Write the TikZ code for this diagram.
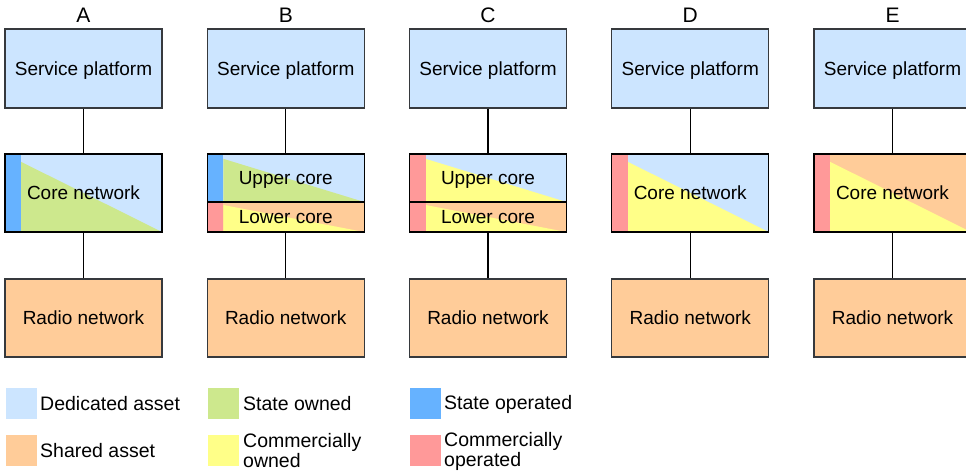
\documentclass[tikz,border=0pt]{standalone}
\usepackage{fontspec}
\setmainfont{Liberation Sans}
\usetikzlibrary{calc}

\definecolor{dedicated}{HTML}{CCE5FF}
\definecolor{shared}{HTML}{FFCC99}
\definecolor{stateown}{HTML}{CDE88D}
\definecolor{commown}{HTML}{FFFF88}
\definecolor{stateop}{HTML}{66B2FF}
\definecolor{commop}{HTML}{FF9999}
\definecolor{edge}{HTML}{36393D}

\tikzset{
  x=1pt, y=-1pt,
  boxtext/.style={font=\fontsize{19}{22}\selectfont, text height=13.8pt, text depth=0pt},
  layer/.style={draw=edge, line width=1.3pt, minimum width=157pt, minimum height=78pt,
    inner sep=0pt, boxtext},
  svc/.style={layer, fill=dedicated, minimum height=79pt},
  radio/.style={layer, fill=shared},
  % core block: #1 operator strip, #2 owner triangle, #3 asset background, #4 height
  core/.style n args={4}{draw=black, line width=1.3pt, minimum width=157pt,
    minimum height=#4, inner sep=0pt, boxtext,
    path picture={
      \coordinate (sw) at (path picture bounding box.south west);
      \coordinate (ne) at (path picture bounding box.north east);
      \fill[#3] (sw) rectangle (ne);
      \fill[#2] let \p1=(sw), \p2=(ne) in
        (\x1+16pt,\y1) -- (\x1+16pt,{\y2-0.1*(\y2-\y1)}) -- (\x2,\y1) -- cycle;
      \fill[#1] let \p1=(sw), \p2=(ne) in (sw) rectangle (\x1+16pt,\y2);
    }},
  link/.style={draw=black, line width=1.3pt},
  head/.style={font=\fontsize{21}{24}\selectfont},
  swatch/.style={minimum width=31pt, minimum height=31pt, inner sep=0pt},
  key/.style={anchor=west, inner sep=0pt, align=left, font=\fontsize{19.5}{20}\selectfont}
}

\begin{document}
\begin{tikzpicture}
\useasboundingbox (0,0) rectangle (966,472);

% ---- Column A ----
\node[head] (hA) at (83.5,15) {A};
\node[svc] (sA) at (83.5,68.5) {Service platform};
\node[core={stateop}{stateown}{dedicated}{78pt}] (cA) at (83.5,193) {Core network};
\node[radio] (rA) at (83.5,318) {Radio network};
\draw[link] (sA) -- (cA);
\draw[link] (cA) -- (rA);

% ---- Column B ----
\node[head] (hB) at (285.75,15) {B};
\node[svc] (sB) at (285.75,68.5) {Service platform};
\node[core={stateop}{stateown}{dedicated}{48pt}] (uB) at (285.75,178) {Upper core};
\node[core={commop}{commown}{shared}{30pt}] (lB) at (285.75,217) {Lower core};
\node[radio] (rB) at (285.75,318) {Radio network};
\draw[link] (sB) -- (uB);
\draw[link] (lB) -- (rB);

% ---- Column C ----
\node[head] (hC) at (488,15) {C};
\node[svc] (sC) at (488,68.5) {Service platform};
\node[core={commop}{commown}{dedicated}{48pt}] (uC) at (488,178) {Upper core};
\node[core={commop}{commown}{shared}{30pt}] (lC) at (488,217) {Lower core};
\node[radio] (rC) at (488,318) {Radio network};
\draw[link] (sC) -- (uC);
\draw[link] (lC) -- (rC);

% ---- Column D ----
\node[head] (hD) at (690.25,15) {D};
\node[svc] (sD) at (690.25,68.5) {Service platform};
\node[core={commop}{commown}{dedicated}{78pt}] (cD) at (690.25,193) {Core network};
\node[radio] (rD) at (690.25,318) {Radio network};
\draw[link] (sD) -- (cD);
\draw[link] (cD) -- (rD);

% ---- Column E ----
\node[head] (hE) at (892.5,15) {E};
\node[svc] (sE) at (892.5,68.5) {Service platform};
\node[core={commop}{commown}{shared}{78pt}] (cE) at (892.5,193) {Core network};
\node[radio] (rE) at (892.5,318) {Radio network};
\draw[link] (sE) -- (cE);
\draw[link] (cE) -- (rE);

% ---- Legend ----
\node[swatch, fill=dedicated] (k1) at (21.5,403.5) {};
\node[key] (t1) at (40,404) {Dedicated asset};
\node[swatch, fill=shared] (k2) at (21.5,450.5) {};
\node[key] (t2) at (40,450.5) {Shared asset};
\node[swatch, fill=stateown] (k3) at (223.5,403.5) {};
\node[key] (t3) at (243,404) {State owned};
\node[swatch, fill=commown] (k4) at (223.5,450.5) {};
\node[key] (t4) at (243,451) {Commercially\\owned};
\node[swatch, fill=stateop] (k5) at (425.5,403.5) {};
\node[key] (t5) at (444,404) {State operated};
\node[swatch, fill=commop] (k6) at (425.5,450.5) {};
\node[key] (t6) at (444,451) {Commercially\\operated};
\end{tikzpicture}
\end{document}
